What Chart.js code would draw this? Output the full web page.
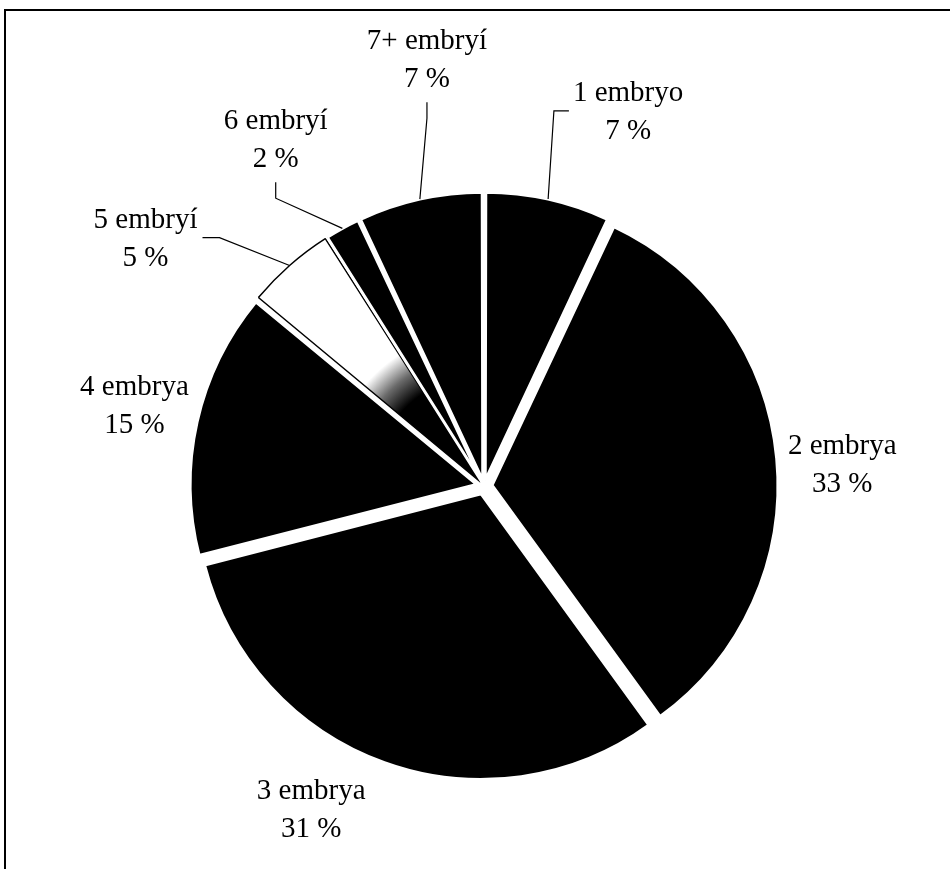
<!DOCTYPE html>
<html>
<head>
<meta charset="utf-8">
<title>Počet embryí</title>
<script src="https://cdn.jsdelivr.net/npm/chart.js@4/dist/chart.umd.min.js"></script>
<style>
  html, body { margin: 0; padding: 0; background: #fff; }
  canvas { display: block; }
</style>
</head>
<body>
<canvas id="embryoPie" width="950" height="869"></canvas>
<script>
// share of transfers by number of embryos
const categories = ["1 embryo", "2 embrya", "3 embrya", "4 embrya", "5 embryí", "6 embryí", "7+ embryí"];
const shares = [7, 33, 31, 15, 5, 2, 7];

// label placement around the rim: angle shift (deg) and gap beyond the edge (px)
const labelAngleShift = [8.6, 1.8, 8.6, 0.6, -12.6, -2.2, 5.1];
const labelGap = [108, 65, 72, 65, 126, 111, 137];
// which side of the label the leader line attaches to (null = no leader)
const leaderSide = ["left", null, null, null, "right", "bottom", "bottom"];
const sliceFill = ["solid", "solid", "solid", "solid", "fade", "solid", "solid"];

const PIE_RADIUS = 285;
const SLICE_SHIFT = 9;       // every slice pulled out by the same distance
const FONT = "29px 'Liberation Serif', 'Times New Roman', serif";
const LINE_GAP = 38;

// Chart.js moves an arc by offset/4 * (2 - sin(circumference)),
// so pick the offset that gives the same pull for every slice
function sliceOffset(ctx) {
  const total = ctx.dataset.data.reduce((a, b) => a + b, 0);
  const circ = ctx.raw / total * Math.PI * 2;
  return 4 * SLICE_SHIFT / (2 - Math.sin(Math.min(Math.PI, circ)));
}

function sliceColor(ctx) {
  if (sliceFill[ctx.dataIndex] !== "fade") return "#000";
  const area = ctx.chart.chartArea;
  if (!area) return "#fff";
  const cx = (area.left + area.right) / 2;
  const cy = (area.top + area.bottom) / 2;
  const g = ctx.chart.ctx.createRadialGradient(cx, cy, 0, cx, cy, PIE_RADIUS);
  g.addColorStop(0, "#000");
  g.addColorStop(0.37, "#000");
  g.addColorStop(0.45, "#6a6a6a");
  g.addColorStop(0.53, "#fff");
  g.addColorStop(1, "#fff");
  return g;
}

// black slices get a white edge, the light one a black outline
function sliceBorder(ctx) {
  return sliceFill[ctx.dataIndex] === "fade" ? "#000" : "#fff";
}

function sliceBorderWidth(ctx) {
  return sliceFill[ctx.dataIndex] === "fade" ? 1.5 : 3;
}

// thin frame along the top and left edge
const framePlugin = {
  id: "frame",
  beforeDraw(chart) {
    const ctx = chart.ctx;
    ctx.save();
    ctx.strokeStyle = "#000";
    ctx.lineWidth = 2;
    ctx.beginPath();
    ctx.moveTo(5, chart.height);
    ctx.lineTo(5, 10);
    ctx.lineTo(chart.width, 10);
    ctx.stroke();
    ctx.restore();
  }
};

// two-line labels ("name" / "NN %") with elbow leader lines for the thin slices
const labelPlugin = {
  id: "pieLabels",
  afterDatasetsDraw(chart) {
    const ctx = chart.ctx;
    const arcs = chart.getDatasetMeta(0).data;
    ctx.save();
    ctx.font = FONT;
    ctx.fillStyle = "#000";
    ctx.strokeStyle = "#000";
    ctx.lineWidth = 1.2;
    ctx.textAlign = "center";
    ctx.textBaseline = "alphabetic";

    arcs.forEach((arc, i) => {
      const mid = (arc.startAngle + arc.endAngle) / 2;
      const sx = arc.x + Math.cos(mid) * SLICE_SHIFT;
      const sy = arc.y + Math.sin(mid) * SLICE_SHIFT;
      const r = arc.outerRadius;
      const la = mid + labelAngleShift[i] * Math.PI / 180;
      const lx = sx + Math.cos(la) * (r + labelGap[i]);
      const ly = sy + Math.sin(la) * (r + labelGap[i]);

      const line1 = categories[i];
      const line2 = shares[i] + " %";
      const b1 = ly - 9.5;
      const b2 = b1 + LINE_GAP;
      ctx.fillText(line1, lx, b1);
      ctx.fillText(line2, lx, b2);

      const side = leaderSide[i];
      if (!side) return;
      const w = Math.max(ctx.measureText(line1).width, ctx.measureText(line2).width);
      const ax = sx + Math.cos(mid) * r;
      const ay = sy + Math.sin(mid) * r;
      let p1, p2;
      if (side === "left") {
        p1 = [lx - w / 2 - 4, ly];
        p2 = [lx - w / 2 - 19, ly];
      } else if (side === "right") {
        p1 = [lx + w / 2 + 5, ly];
        p2 = [lx + w / 2 + 22, ly];
      } else {
        p1 = [lx, b2 + 15];
        p2 = [lx, b2 + 31];
      }
      ctx.beginPath();
      ctx.moveTo(p1[0], p1[1]);
      ctx.lineTo(p2[0], p2[1]);
      ctx.lineTo(ax, ay);
      ctx.stroke();
    });
    ctx.restore();
  }
};

new Chart(document.getElementById("embryoPie"), {
  type: "pie",
  data: {
    labels: categories,
    datasets: [{
      data: shares,
      backgroundColor: sliceColor,
      borderColor: sliceBorder,
      borderWidth: sliceBorderWidth,
      offset: sliceOffset,
      hoverOffset: 0
    }]
  },
  options: {
    responsive: false,
    animation: false,
    events: [],
    radius: PIE_RADIUS,
    layout: { padding: { left: 28, right: 10, top: 110, bottom: 7 } },
    plugins: {
      legend: { display: false },
      tooltip: { enabled: false }
    }
  },
  plugins: [framePlugin, labelPlugin]
});
</script>
</body>
</html>
